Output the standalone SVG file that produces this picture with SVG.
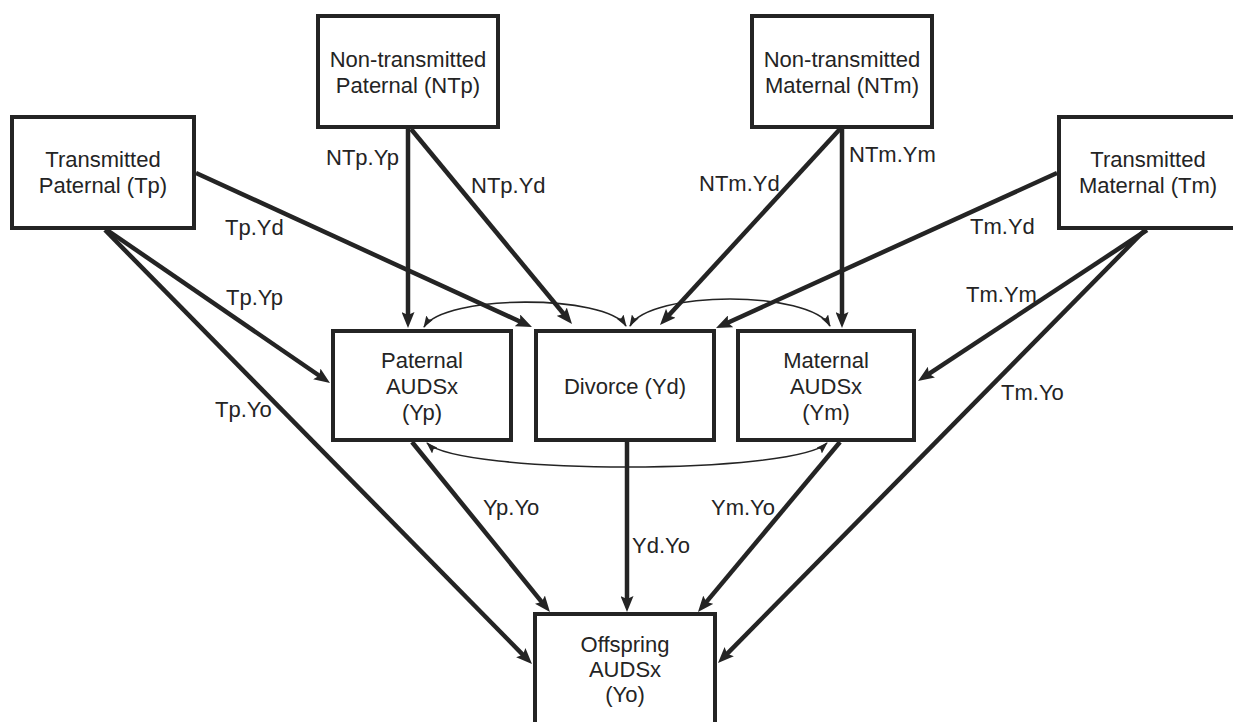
<svg xmlns="http://www.w3.org/2000/svg" width="1233" height="722" viewBox="0 0 1233 722">
<style>
.box{fill:#fff;stroke:#242424;stroke-width:4}
text{font-family:"Liberation Sans",Arial,sans-serif;font-size:22px;fill:#242424}
.c{text-anchor:middle}
.e{fill:none;stroke:#242424;stroke-width:4.5}
.t{fill:none;stroke:#242424;stroke-width:1.6}
</style>
<defs>
<marker id="ah" viewBox="0 0 16 13" refX="8" refY="6.5" markerWidth="16" markerHeight="13" markerUnits="userSpaceOnUse" orient="auto">
<path d="M0,0 L16,6.5 L0,13 L3,6.5 z" fill="#242424"/>
</marker>
<marker id="sh" viewBox="0 0 12 8" refX="11" refY="4" markerWidth="12" markerHeight="8" markerUnits="userSpaceOnUse" orient="auto-start-reverse">
<path d="M0,0 L12,4 L0,8 L2,4 z" fill="#242424"/>
</marker>
</defs>
<rect width="1233" height="722" fill="#fff"/>
<g id="connectors">
<line class="e" x1="408" y1="129" x2="408" y2="320" marker-end="url(#ah)"/>
<line class="e" x1="411" y1="129" x2="566.9" y2="317.8" marker-end="url(#ah)"/>
<line class="e" x1="196" y1="173" x2="524.7" y2="323.7" marker-end="url(#ah)"/>
<line class="e" x1="107" y1="230" x2="323.4" y2="378.5" marker-end="url(#ah)"/>
<line class="e" x1="105" y1="230" x2="526.4" y2="658.3" marker-end="url(#ah)"/>
<line class="e" x1="842" y1="129" x2="842" y2="320" marker-end="url(#ah)"/>
<line class="e" x1="840" y1="129" x2="665.4" y2="319.1" marker-end="url(#ah)"/>
<line class="e" x1="1057" y1="173" x2="723.3" y2="324.7" marker-end="url(#ah)"/>
<line class="e" x1="1147" y1="230" x2="924.7" y2="376.6" marker-end="url(#ah)"/>
<line class="e" x1="1145" y1="230" x2="723.6" y2="657.3" marker-end="url(#ah)"/>
<line class="e" x1="412" y1="442" x2="544.9" y2="605.8" marker-end="url(#ah)"/>
<line class="e" x1="627" y1="442" x2="627" y2="604" marker-end="url(#ah)"/>
<line class="e" x1="840" y1="442" x2="703.1" y2="605.9" marker-end="url(#ah)"/>
<path class="t" d="M424,327 C444,294 606,294 626,326" marker-start="url(#sh)" marker-end="url(#sh)"/>
<path class="t" d="M630,326 C650,290 810,290 830,326" marker-start="url(#sh)" marker-end="url(#sh)"/>
<path class="t" d="M427,443 C460,475 794,475 827,443" marker-start="url(#sh)" marker-end="url(#sh)"/>
<text x="326" y="165">NTp.Yp</text>
<text x="471" y="193">NTp.Yd</text>
<text x="225" y="235">Tp.Yd</text>
<text x="226" y="305">Tp.Yp</text>
<text x="215" y="417">Tp.Yo</text>
<text x="849" y="162">NTm.Ym</text>
<text x="699" y="191">NTm.Yd</text>
<text x="970" y="234">Tm.Yd</text>
<text x="966" y="302">Tm.Ym</text>
<text x="1001" y="400">Tm.Yo</text>
<text x="483" y="515">Yp.Yo</text>
<text x="632" y="553">Yd.Yo</text>
<text x="711" y="515">Ym.Yo</text>
</g>
<g id="Tp">
<rect class="box" x="12" y="117" width="182" height="111"/>
<text class="c" x="103" y="167">Transmitted</text>
<text class="c" x="103" y="193">Paternal (Tp)</text>
</g>
<g id="NTp">
<rect class="box" x="318" y="16" width="180" height="111"/>
<text class="c" x="408" y="67">Non-transmitted</text>
<text class="c" x="408" y="93">Paternal (NTp)</text>
</g>
<g id="NTm">
<rect class="box" x="752" y="16" width="180" height="111"/>
<text class="c" x="842" y="67">Non-transmitted</text>
<text class="c" x="842" y="93">Maternal (NTm)</text>
</g>
<g id="Tm">
<rect class="box" x="1059" y="117" width="190" height="111"/>
<text class="c" x="1148" y="167">Transmitted</text>
<text class="c" x="1148" y="193">Maternal (Tm)</text>
</g>
<g id="Yp">
<rect class="box" x="333" y="331" width="178" height="109"/>
<text class="c" x="422" y="368">Paternal</text>
<text class="c" x="422" y="394">AUDSx</text>
<text class="c" x="422" y="420">(Yp)</text>
</g>
<g id="Yd">
<rect class="box" x="536" y="331" width="178" height="109"/>
<text class="c" x="625" y="394">Divorce (Yd)</text>
</g>
<g id="Ym">
<rect class="box" x="738" y="331" width="176" height="109"/>
<text class="c" x="826" y="368">Maternal</text>
<text class="c" x="826" y="394">AUDSx</text>
<text class="c" x="826" y="420">(Ym)</text>
</g>
<g id="Yo">
<rect class="box" x="535" y="614" width="180" height="130"/>
<text class="c" x="625" y="652">Offspring</text>
<text class="c" x="625" y="677">AUDSx</text>
<text class="c" x="625" y="702">(Yo)</text>
</g>
</svg>
